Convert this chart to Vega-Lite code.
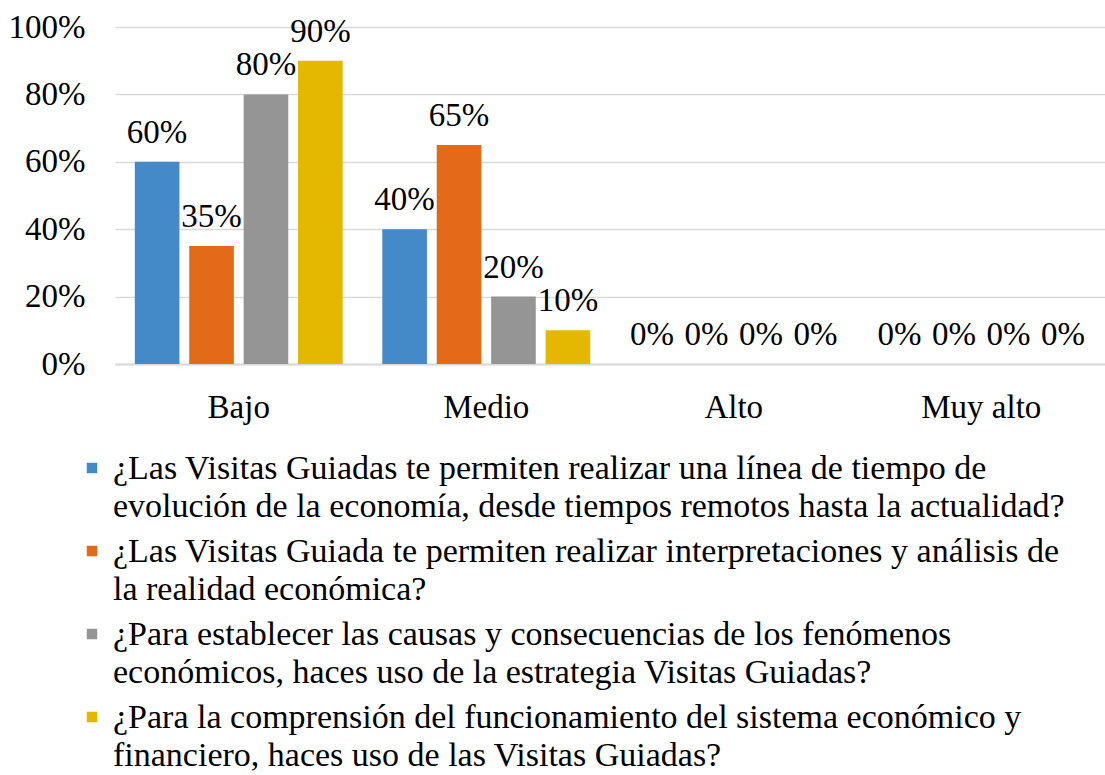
{
  "$schema": "https://vega.github.io/schema/vega-lite/v6.json",
  "width": 990,
  "height": 337,
  "autosize": {"type": "none"},
  "padding": {"left": 115, "top": 27, "right": 0, "bottom": 411},
  "background": "white",
  "config": {"view": {"stroke": null}, "font": "Liberation Serif"},
  "datasets": {
    "d": [
      {"nivel": "Bajo", "serie": "¿Las Visitas Guiadas te permiten realizar una línea de tiempo de|evolución de la economía, desde tiempos remotos hasta la actualidad?", "valor": 0.60},
      {"nivel": "Bajo", "serie": "¿Las Visitas Guiada te permiten realizar interpretaciones y análisis de|la realidad económica?", "valor": 0.35},
      {"nivel": "Bajo", "serie": "¿Para establecer las causas y consecuencias de los fenómenos|económicos, haces uso de la estrategia Visitas Guiadas?", "valor": 0.80},
      {"nivel": "Bajo", "serie": "¿Para la comprensión del funcionamiento del sistema económico y|financiero, haces uso de las Visitas Guiadas?", "valor": 0.90},
      {"nivel": "Medio", "serie": "¿Las Visitas Guiadas te permiten realizar una línea de tiempo de|evolución de la economía, desde tiempos remotos hasta la actualidad?", "valor": 0.40},
      {"nivel": "Medio", "serie": "¿Las Visitas Guiada te permiten realizar interpretaciones y análisis de|la realidad económica?", "valor": 0.65},
      {"nivel": "Medio", "serie": "¿Para establecer las causas y consecuencias de los fenómenos|económicos, haces uso de la estrategia Visitas Guiadas?", "valor": 0.20},
      {"nivel": "Medio", "serie": "¿Para la comprensión del funcionamiento del sistema económico y|financiero, haces uso de las Visitas Guiadas?", "valor": 0.10},
      {"nivel": "Alto", "serie": "¿Las Visitas Guiadas te permiten realizar una línea de tiempo de|evolución de la economía, desde tiempos remotos hasta la actualidad?", "valor": 0},
      {"nivel": "Alto", "serie": "¿Las Visitas Guiada te permiten realizar interpretaciones y análisis de|la realidad económica?", "valor": 0},
      {"nivel": "Alto", "serie": "¿Para establecer las causas y consecuencias de los fenómenos|económicos, haces uso de la estrategia Visitas Guiadas?", "valor": 0},
      {"nivel": "Alto", "serie": "¿Para la comprensión del funcionamiento del sistema económico y|financiero, haces uso de las Visitas Guiadas?", "valor": 0},
      {"nivel": "Muy alto", "serie": "¿Las Visitas Guiadas te permiten realizar una línea de tiempo de|evolución de la economía, desde tiempos remotos hasta la actualidad?", "valor": 0},
      {"nivel": "Muy alto", "serie": "¿Las Visitas Guiada te permiten realizar interpretaciones y análisis de|la realidad económica?", "valor": 0},
      {"nivel": "Muy alto", "serie": "¿Para establecer las causas y consecuencias de los fenómenos|económicos, haces uso de la estrategia Visitas Guiadas?", "valor": 0},
      {"nivel": "Muy alto", "serie": "¿Para la comprensión del funcionamiento del sistema económico y|financiero, haces uso de las Visitas Guiadas?", "valor": 0}
    ]
  },
  "data": {"name": "d"},
  "encoding": {
    "x": {
      "field": "nivel", "type": "nominal",
      "sort": ["Bajo", "Medio", "Alto", "Muy alto"],
      "scale": {"paddingInner": 0.16, "paddingOuter": 0.08},
      "axis": {
        "title": null, "labelAngle": 0, "ticks": false,
        "domainColor": "#d9d9d9", "domainWidth": 2,
        "labelFont": "Liberation Serif", "labelFontSize": 33, "labelColor": "#000000",
        "labelPadding": 27
      }
    },
    "xOffset": {
      "field": "serie", "type": "nominal",
      "sort": null,
      "scale": {"paddingInner": 0.18, "paddingOuter": 0}
    },
    "y": {
      "field": "valor", "type": "quantitative",
      "scale": {"domain": [0, 1]},
      "axis": {
        "title": null, "values": [0, 0.2, 0.4, 0.6, 0.8, 1], "format": ".0%",
        "domain": false, "ticks": false,
        "gridColor": "#d9d9d9", "gridWidth": 1.5,
        "labelFont": "Liberation Serif", "labelFontSize": 33, "labelColor": "#000000",
        "labelPadding": 30
      }
    }
  },
  "layer": [
    {
      "mark": {"type": "bar"},
      "encoding": {
        "color": {
          "field": "serie", "type": "nominal", "sort": null,
          "scale": {"range": ["#4489C8", "#E36A18", "#959595", "#E4B800"]},
          "legend": {
            "orient": "none", "legendX": -40, "legendY": 424,
            "title": null, "direction": "vertical",
            "symbolType": "square", "symbolSize": 110, "symbolStrokeWidth": 0,
            "labelFont": "Liberation Serif", "labelFontSize": 34, "labelColor": "#000000",
            "labelLimit": 1200, "labelOffset": 4, "rowPadding": 10, "padding": 0,
            "labelBaseline": "top",
            "labelExpr": "split(datum.label, '|')",
            "encode": {"labels": {"update": {"lineHeight": {"value": 38}, "dy": {"value": -16}}}}
          }
        }
      }
    },
    {
      "mark": {"type": "text", "baseline": "alphabetic", "dy": -19, "fontSize": 33, "font": "Liberation Serif", "color": "#000000"},
      "encoding": {"text": {"field": "valor", "type": "quantitative", "format": ".0%"}}
    }
  ]
}
